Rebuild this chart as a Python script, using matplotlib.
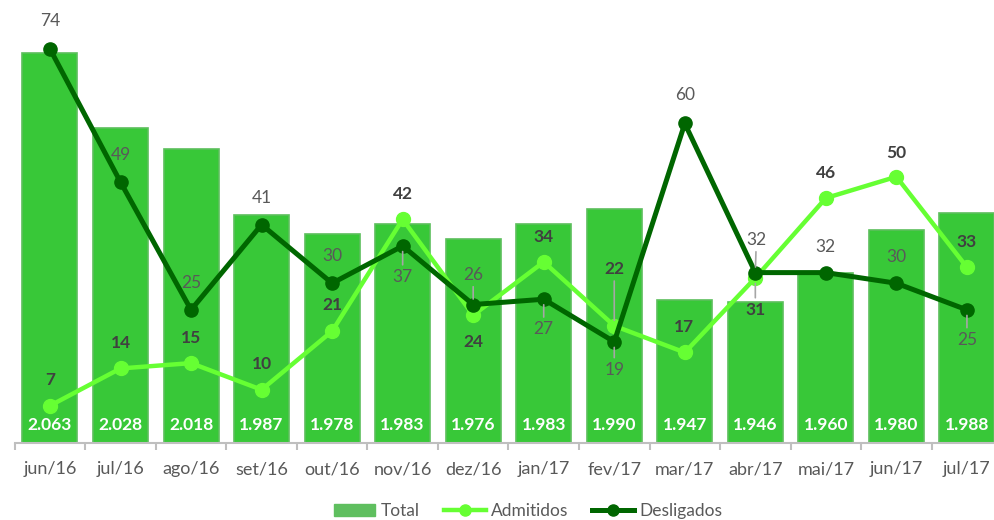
import matplotlib
matplotlib.use('Agg')
import matplotlib.pyplot as plt
from matplotlib.patches import Patch
from matplotlib.lines import Line2D

plt.rcParams['font.family'] = ['Lato', 'DejaVu Sans']

meses = ['jun/16', 'jul/16', 'ago/16', 'set/16', 'out/16', 'nov/16', 'dez/16',
         'jan/17', 'fev/17', 'mar/17', 'abr/17', 'mai/17', 'jun/17', 'jul/17']
total = [2063, 2028, 2018, 1987, 1978, 1983, 1976, 1983, 1990, 1947, 1946, 1960, 1980, 1988]
admitidos = [7, 14, 15, 10, 21, 42, 24, 34, 22, 17, 31, 46, 50, 33]
desligados = [74, 49, 25, 41, 30, 37, 26, 27, 19, 60, 32, 32, 30, 25]

# deslocamento dos rótulos (pixels) e se leva linha de chamada
off_adm = [26, 25, 25, 26, 26, 25, -27, 25, 57, 25, -32, 25, 24, 25]
lead_adm = [0, 0, 0, 0, 0, 0, 0, 0, 1, 0, 1, 0, 0, 0]
dx_adm = [0, 0, 0, 0, 0, 0, 0, 0, 0, -1, 0, 0, 0, 0]
off_des = [28, 27, 27, 27, 27, -31, 30, -30, -28, 28, 33, 26, 26, -30]
lead_des = [0, 0, 0, 0, 0, 1, 1, 1, 1, 0, 1, 0, 0, 1]
dx_des = [0, 0, 0, 0, 0, 0, 0, 0, 0, 0, 1, 0, 0, 0]

C_BAR = '#38c838'
C_ADM = '#66ff33'
C_DES = '#006600'
C_TXT = '#595959'
C_BOLD = '#404040'

fig = plt.figure(figsize=(9.94, 5.2), dpi=100)
ax = fig.add_axes([14.7 / 994, 77 / 520, 987.5 / 994, 426 / 520])
x = list(range(len(meses)))

ax.bar(x, [t - 1880 for t in total], bottom=1880, width=0.78, color=C_BAR,
       edgecolor='#5cbf5c', linewidth=1.2, zorder=1)
ax.set_ylim(1880, 2080)
ax.set_xlim(-0.5, len(meses) - 0.5)

for i, t in enumerate(total):
    ax.annotate(f'{t/1000:.3f}', (i, 1880), xytext=(0, 18), textcoords='offset pixels',
                ha='center', va='center', color='white', fontsize=12.5, fontweight='bold',
                zorder=5)

for s in ['top', 'right', 'left']:
    ax.spines[s].set_visible(False)
ax.spines['bottom'].set_color('#bfbfbf')
ax.spines['bottom'].set_linewidth(1.5)
ax.set_yticks([])
ax.set_xticks(x)
ax.set_xticklabels(meses, fontsize=13, color=C_TXT)
ax.tick_params(axis='x', which='major', length=0, pad=13)
ax.set_xticks([i - 0.5 for i in range(len(meses) + 1)], minor=True)
ax.tick_params(axis='x', which='minor', length=5, width=1.5, color='#bfbfbf')

ax2 = ax.twinx()
ax2.set_ylim(0, 80)
ax2.axis('off')
ax2.plot(x, admitidos, color=C_ADM, lw=3.2, marker='o', ms=10, zorder=3)
ax2.plot(x, desligados, color=C_DES, lw=3.6, marker='o', ms=9.5, zorder=4)

lead = dict(arrowstyle='-', color='#a6a6a6', lw=1.2, shrinkA=1, shrinkB=4)
for i, v in enumerate(admitidos):
    ax2.annotate(str(v), (i, v), xytext=(dx_adm[i], off_adm[i]), textcoords='offset pixels',
                 ha='center', va='center', color=C_BOLD, fontsize=12.5, fontweight='bold',
                 arrowprops=lead if lead_adm[i] else None, zorder=6)
for i, v in enumerate(desligados):
    ax2.annotate(str(v), (i, v), xytext=(dx_des[i], off_des[i]), textcoords='offset pixels',
                 ha='center', va='center', color=C_TXT, fontsize=12.5,
                 arrowprops=lead if lead_des[i] else None, zorder=6)

handles = [Patch(color='#5fbf5f', label='Total'),
           Line2D([], [], color=C_ADM, lw=3.2, marker='o', ms=8, label='Admitidos'),
           Line2D([], [], color=C_DES, lw=3.6, marker='o', ms=8, label='Desligados')]
fig.legend(handles=handles, loc='center', bbox_to_anchor=(528 / 994, 1 - 511 / 520), ncol=3,
           frameon=False, fontsize=12.5, labelcolor=C_TXT, handlelength=2.4,
           handletextpad=0.3, columnspacing=1.4)

fig.savefig('out.png', dpi=100)
